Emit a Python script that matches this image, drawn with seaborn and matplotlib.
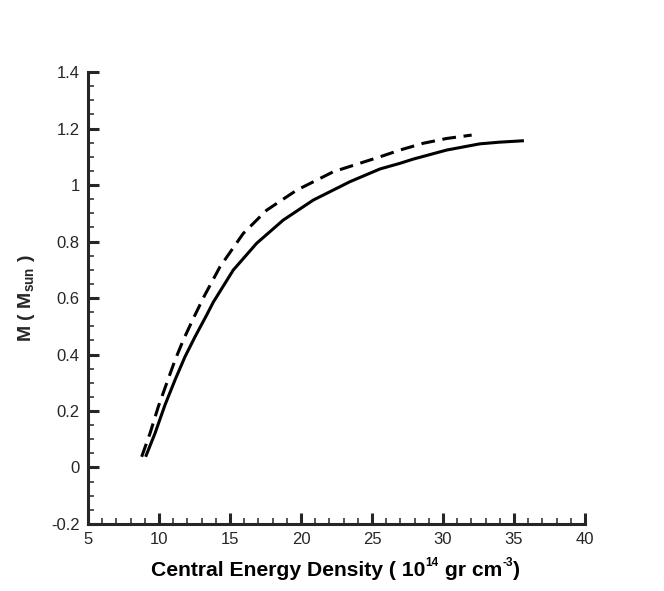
import pandas as pd
import numpy as np
import seaborn as sns
import matplotlib.pyplot as plt
from matplotlib.ticker import MultipleLocator
from matplotlib.offsetbox import TextArea, HPacker, VPacker, DrawingArea, AnchoredOffsetbox

# solid curve
solid_x = [9.06, 9.72, 10.42, 11.13, 11.83, 12.54, 13.36, 13.82, 15.23, 16.88, 18.75,
           20.87, 23.45, 25.56, 26.97, 27.91, 30.26, 32.6, 34.0, 35.7]
solid_y = [0.038, 0.121, 0.221, 0.310, 0.392, 0.463, 0.540, 0.585, 0.699, 0.794, 0.876,
           0.947, 1.012, 1.057, 1.077, 1.092, 1.124, 1.146, 1.152, 1.157]

# dashed curve
dash_x = [8.78, 9.37, 9.95, 10.54, 11.13, 11.71, 12.42, 13.2, 14.3, 15.94, 17.58, 19.7,
          22.27, 25.56, 26.97, 28.61, 30.26, 32.02]
dash_y = [0.038, 0.121, 0.215, 0.298, 0.380, 0.451, 0.528, 0.608, 0.711, 0.829, 0.911, 0.982,
          1.047, 1.100, 1.124, 1.148, 1.165, 1.177]

df = pd.concat([
    pd.DataFrame({'eps': solid_x, 'M': solid_y, 'model': 'solid'}),
    pd.DataFrame({'eps': dash_x, 'M': dash_y, 'model': 'dashed'}),
])

sns.set_style("ticks")
plt.rcParams['font.family'] = ['Liberation Sans', 'DejaVu Sans']
plt.rcParams['mathtext.fontset'] = 'custom'
plt.rcParams['mathtext.rm'] = 'Liberation Sans'
plt.rcParams['mathtext.bf'] = 'Liberation Sans:bold'
plt.rcParams['lines.solid_capstyle'] = 'butt'

fig = plt.figure(figsize=(6.64, 5.91), dpi=100)
ax = fig.add_axes([0.1325, 0.1134, 0.7485, 0.7646])

sns.lineplot(data=df, x='eps', y='M', style='model', sort=False,
             dashes={'solid': '', 'dashed': (4.5, 2.5)},
             color='black', linewidth=2.2, legend=False, ax=ax)

ax.set_xlim(5, 40)
ax.set_ylim(-0.2, 1.4)
ax.xaxis.set_major_locator(MultipleLocator(5))
ax.xaxis.set_minor_locator(MultipleLocator(1))
ax.yaxis.set_major_locator(MultipleLocator(0.2))
ax.yaxis.set_minor_locator(MultipleLocator(0.05))
ax.yaxis.set_major_formatter(plt.FuncFormatter(
    lambda v, p: f"{v:.1f}".rstrip('0').rstrip('.') if abs(v) > 1e-9 else "0"))

for s in ['top', 'right']:
    ax.spines[s].set_visible(False)
for s in ['left', 'bottom']:
    ax.spines[s].set_linewidth(2.2)

ax.tick_params(which='major', direction='in', length=8, width=2.2, labelsize=12, pad=6)
ax.tick_params(which='minor', direction='in', length=4, width=1.1)

ax.set_xlabel("")
ax.set_ylabel(r"M ( M$_{\mathbf{sun}}$ )", fontsize=14, fontweight='bold', labelpad=10)

# x label with small superscripts, built from text pieces
main = dict(fontsize=15.2, fontweight='bold', color='black')
small = dict(fontsize=8.5, fontweight='bold', color='black')


def sup(s):
    return VPacker(children=[TextArea(s, textprops=small), DrawingArea(1, 7.5)],
                   pad=0, sep=0, align='left')


xlab = HPacker(children=[TextArea("Central Energy Density ( 10", textprops=main), sup("14"),
                         TextArea(" gr cm", textprops=main), sup("-3"),
                         TextArea(")", textprops=main)],
               pad=0, sep=0, align='bottom')
box = AnchoredOffsetbox(loc='center', child=xlab, frameon=False, pad=0, borderpad=0,
                        bbox_to_anchor=(335.5 / 664, 1 - 568.5 / 591),
                        bbox_transform=fig.transFigure)
ax.add_artist(box)

fig.savefig("out.png", dpi=100)
